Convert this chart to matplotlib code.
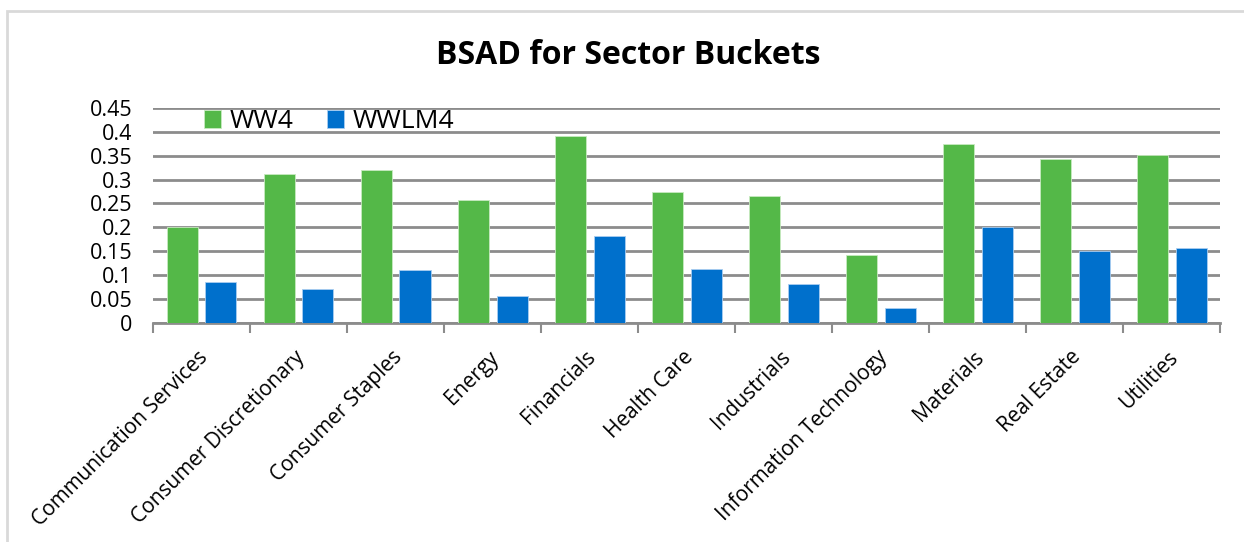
import matplotlib.pyplot as plt
import numpy as np
from matplotlib.patches import Rectangle

plt.rcParams['font.family'] = ['Open Sans', 'DejaVu Sans']

sectors = ['Communication Services', 'Consumer Discretionary', 'Consumer Staples',
           'Energy', 'Financials', 'Health Care', 'Industrials',
           'Information Technology', 'Materials', 'Real Estate', 'Utilities']
ww4 = [0.201, 0.312, 0.321, 0.257, 0.391, 0.275, 0.266, 0.142, 0.375, 0.342, 0.351]
wwlm4 = [0.085, 0.072, 0.110, 0.056, 0.182, 0.113, 0.082, 0.031, 0.201, 0.150, 0.156]
yticks = [0, 0.05, 0.1, 0.15, 0.2, 0.25, 0.3, 0.35, 0.4, 0.45]
ytick_labels = ['0', '0.05', '0.1', '0.15', '0.2', '0.25', '0.3', '0.35', '0.4', '0.45']

green = '#54b848'
blue = '#0070cc'
grid_col = '#8c8c8c'

fig = plt.figure(figsize=(12.44, 5.42), dpi=100)
ax = fig.add_axes([0.123, 0.404, 0.858, 0.397])

# outer chart frame
fig.patches.append(Rectangle((7 / 1244, -0.1), 1.2, 1 - 11 / 542 + 0.1,
                             transform=fig.transFigure, fill=False,
                             edgecolor='#d9d9d9', linewidth=2, zorder=0))

x = np.arange(len(sectors))
w = 0.32
ax.bar(x - 0.2, ww4, width=w, color=green, edgecolor='#c8eac0', linewidth=0.6,
       label='WW4', zorder=3)
ax.bar(x + 0.2, wwlm4, width=w, color=blue, edgecolor='#a9cdf0', linewidth=0.6,
       label='WWLM4', zorder=3)

ax.set_xlim(-0.5, len(sectors) - 0.5)
ax.set_ylim(0, 0.45)
ax.set_yticks(yticks)
ax.set_yticklabels(ytick_labels, fontsize=15.5)
ax.tick_params(axis='y', length=0, pad=15)
ax.yaxis.grid(True, color=grid_col, linewidth=2)
ax.set_axisbelow(True)

# ticks between categories, labels at category centres
ax.set_xticks(np.arange(-0.5, len(sectors)), minor=False)
ax.set_xticklabels([])
ax.tick_params(axis='x', direction='out', length=7, width=1.5, color=grid_col)
for xi, name in zip(x, sectors):
    ax.annotate(name, xy=(xi, 0), xycoords=('data', 'axes fraction'),
                xytext=(-3, -17), textcoords='offset points',
                rotation=45, ha='right', va='top', fontsize=15,
                rotation_mode='anchor')

for side in ['left', 'right', 'top']:
    ax.spines[side].set_visible(False)
ax.spines['bottom'].set_color(grid_col)
ax.spines['bottom'].set_linewidth(2)

ax.legend(loc='center left', bbox_to_anchor=(0.048, 0.935), ncol=2, frameon=False,
          fontsize=19, handlelength=0.63, handleheight=0.63, columnspacing=1.25,
          handletextpad=0.35, borderaxespad=0, borderpad=0)

fig.text(0.505, 0.898, 'BSAD for Sector Buckets', ha='center', va='center',
         fontsize=23, fontweight='bold')

fig.savefig('out.png', dpi=100)
